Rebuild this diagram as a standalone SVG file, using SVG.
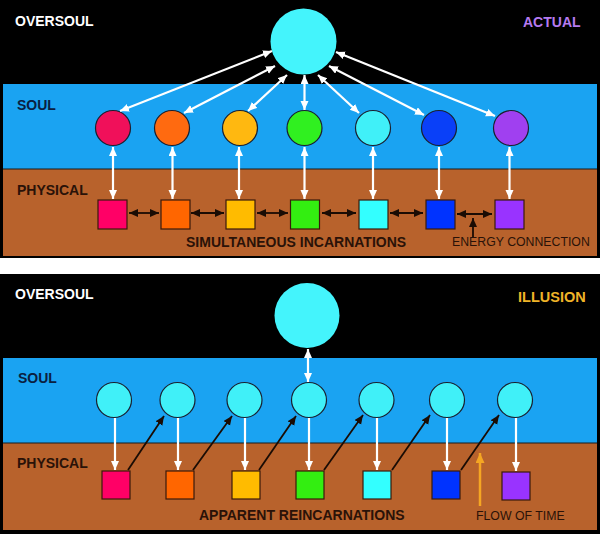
<svg xmlns="http://www.w3.org/2000/svg" width="600" height="534" viewBox="0 0 600 534">
<style>
.lbl{font-family:"Liberation Sans",Arial,sans-serif;font-weight:bold;font-size:14px}
.small{font-family:"Liberation Sans",Arial,sans-serif;font-size:12.3px;fill:#2a1208}
.w{stroke:#ffffff;stroke-width:2.2;fill:none}
.k{stroke:#1a0c04;stroke-width:1.8;fill:none}
.soulc{stroke:#1a2030;stroke-width:1.2}
.sq{stroke:#3a1a0a;stroke-width:1.2}
</style>
<defs>
<marker id="aw" markerUnits="userSpaceOnUse" markerWidth="10" markerHeight="9" refX="9" refY="4" orient="auto-start-reverse"><path d="M0,0 L9,4 L0,8 z" fill="#ffffff"/></marker>
<marker id="ak" markerUnits="userSpaceOnUse" markerWidth="10" markerHeight="9" refX="9" refY="4" orient="auto-start-reverse"><path d="M0,0 L9,4 L0,8 z" fill="#1a0c04"/></marker>
<marker id="ao" markerUnits="userSpaceOnUse" markerWidth="11" markerHeight="10" refX="10" refY="4.5" orient="auto"><path d="M0,0 L10,4.5 L0,9 z" fill="#f5a623"/></marker>
</defs>
<rect width="600" height="534" fill="#ffffff"/>
<!-- top panel -->
<g id="panel-actual">
<rect x="0" y="0" width="600" height="258" fill="#000000"/>
<rect x="3" y="84" width="594" height="85" fill="#1aa3f2"/>
<rect x="3" y="169" width="594" height="87" fill="#b8622c"/>
<line x1="3" y1="169" x2="597" y2="169" stroke="#1a1a1a" stroke-width="1"/>
<text class="lbl" x="15" y="26" fill="#ffffff">OVERSOUL</text>
<text class="lbl" x="523" y="27" fill="#b57af0">ACTUAL</text>
<text class="lbl" x="17" y="110" fill="#0a2040">SOUL</text>
<text class="lbl" x="17" y="195" fill="#2a1208">PHYSICAL</text>
<text class="lbl" x="186" y="247" fill="#2a1208">SIMULTANEOUS INCARNATIONS</text>
<text class="small" x="452" y="246">ENERGY CONNECTION</text>
</g>
<g id="oversoul-top"><circle cx="303.5" cy="41.5" r="33" fill="#44f4fc"/></g>
<g id="soul-top">
<circle class="soulc" cx="113" cy="128" r="17.5" fill="#f0105a"/>
<circle class="soulc" cx="172" cy="128" r="17.5" fill="#ff6a10"/>
<circle class="soulc" cx="240" cy="128" r="17.5" fill="#ffb810"/>
<circle class="soulc" cx="304.5" cy="128" r="17.5" fill="#30f020"/>
<circle class="soulc" cx="373" cy="128" r="17.5" fill="#40f0f8"/>
<circle class="soulc" cx="439" cy="128" r="17.5" fill="#0a40f8"/>
<circle class="soulc" cx="511" cy="128" r="17.5" fill="#a040f0"/>
</g>
<g id="physical-top">
<rect class="sq" x="98" y="200" width="29" height="29" fill="#ff0066"/>
<rect class="sq" x="161" y="200" width="29" height="29" fill="#ff6600"/>
<rect class="sq" x="226" y="200" width="29" height="29" fill="#ffbb00"/>
<rect class="sq" x="290.5" y="200" width="29" height="29" fill="#33ee11"/>
<rect class="sq" x="359" y="200" width="29" height="29" fill="#33ffff"/>
<rect class="sq" x="426" y="200" width="29" height="29" fill="#0033ff"/>
<rect class="sq" x="495" y="200" width="29" height="29" fill="#9933ff"/>
</g>
<g id="connectors-top">
<line class="w" x1="272" y1="51" x2="120" y2="111" marker-start="url(#aw)" marker-end="url(#aw)"/>
<line class="w" x1="275" y1="66" x2="184" y2="113" marker-start="url(#aw)" marker-end="url(#aw)"/>
<line class="w" x1="287" y1="75" x2="248" y2="111" marker-start="url(#aw)" marker-end="url(#aw)"/>
<line class="w" x1="304.5" y1="75" x2="304.5" y2="110" marker-start="url(#aw)" marker-end="url(#aw)"/>
<line class="w" x1="318" y1="75" x2="359" y2="113" marker-start="url(#aw)" marker-end="url(#aw)"/>
<line class="w" x1="329" y1="66" x2="424" y2="115" marker-start="url(#aw)" marker-end="url(#aw)"/>
<line class="w" x1="336" y1="52" x2="495" y2="116" marker-start="url(#aw)" marker-end="url(#aw)"/>
<line class="w" x1="113" y1="147" x2="113" y2="199" marker-start="url(#aw)" marker-end="url(#aw)"/>
<line class="w" x1="172.5" y1="147" x2="172.5" y2="199" marker-start="url(#aw)" marker-end="url(#aw)"/>
<line class="w" x1="239" y1="147" x2="239" y2="199" marker-start="url(#aw)" marker-end="url(#aw)"/>
<line class="w" x1="304.5" y1="147" x2="304.5" y2="199" marker-start="url(#aw)" marker-end="url(#aw)"/>
<line class="w" x1="373" y1="147" x2="373" y2="199" marker-start="url(#aw)" marker-end="url(#aw)"/>
<line class="w" x1="439" y1="147" x2="439" y2="199" marker-start="url(#aw)" marker-end="url(#aw)"/>
<line class="w" x1="509.5" y1="147" x2="509.5" y2="199" marker-start="url(#aw)" marker-end="url(#aw)"/>
<line class="k" x1="129" y1="213" x2="159" y2="213" marker-start="url(#ak)" marker-end="url(#ak)"/>
<line class="k" x1="191" y1="213" x2="224" y2="213" marker-start="url(#ak)" marker-end="url(#ak)"/>
<line class="k" x1="257" y1="213" x2="288" y2="213" marker-start="url(#ak)" marker-end="url(#ak)"/>
<line class="k" x1="322" y1="213" x2="356" y2="213" marker-start="url(#ak)" marker-end="url(#ak)"/>
<line class="k" x1="390" y1="213" x2="423" y2="213" marker-start="url(#ak)" marker-end="url(#ak)"/>
<line class="k" x1="457" y1="214" x2="492" y2="214" marker-start="url(#ak)" marker-end="url(#ak)"/>
<line class="k" x1="473" y1="237" x2="473" y2="218" marker-end="url(#ak)"/>
</g>
<!-- bottom panel -->
<g id="panel-illusion">
<rect x="0" y="274" width="600" height="260" fill="#000000"/>
<rect x="3" y="358" width="594" height="85" fill="#1aa3f2"/>
<rect x="3" y="443" width="594" height="87" fill="#b8622c"/>
<line x1="3" y1="443" x2="597" y2="443" stroke="#1a1a1a" stroke-width="1"/>
<text class="lbl" x="15" y="299" fill="#ffffff">OVERSOUL</text>
<text class="lbl" x="518" y="302" fill="#f0b428" style="font-size:14.5px">ILLUSION</text>
<text class="lbl" x="18" y="383" fill="#0a2040">SOUL</text>
<text class="lbl" x="17" y="468" fill="#2a1208">PHYSICAL</text>
<text class="lbl" x="199" y="520" fill="#2a1208">APPARENT REINCARNATIONS</text>
<text class="small" x="476" y="520">FLOW OF TIME</text>
</g>
<g id="oversoul-bottom"><circle cx="307" cy="315.5" r="32.5" fill="#44f4fc"/></g>
<g id="soul-bottom">
<circle class="soulc" cx="114" cy="400" r="17.5" fill="#40f0f8"/>
<circle class="soulc" cx="177.5" cy="400" r="17.5" fill="#40f0f8"/>
<circle class="soulc" cx="244.5" cy="400" r="17.5" fill="#40f0f8"/>
<circle class="soulc" cx="309" cy="400" r="17.5" fill="#40f0f8"/>
<circle class="soulc" cx="376.5" cy="400" r="17.5" fill="#40f0f8"/>
<circle class="soulc" cx="447" cy="400" r="17.5" fill="#40f0f8"/>
<circle class="soulc" cx="515" cy="400" r="17.5" fill="#40f0f8"/>
</g>
<g id="physical-bottom">
<rect class="sq" x="102" y="471" width="28" height="28" fill="#ff0066"/>
<rect class="sq" x="166" y="471" width="28" height="28" fill="#ff6600"/>
<rect class="sq" x="232" y="471" width="28" height="28" fill="#ffbb00"/>
<rect class="sq" x="296" y="471" width="28" height="28" fill="#33ee11"/>
<rect class="sq" x="363" y="471" width="28" height="28" fill="#33ffff"/>
<rect class="sq" x="432" y="471" width="28" height="28" fill="#0033ff"/>
<rect class="sq" x="502" y="472" width="28" height="28" fill="#9933ff"/>
</g>
<g id="connectors-bottom">
<line class="w" x1="308" y1="349" x2="308" y2="382" marker-start="url(#aw)" marker-end="url(#aw)"/>
<line class="w" x1="115" y1="418" x2="115" y2="470" marker-end="url(#aw)"/>
<line class="w" x1="178" y1="418" x2="178" y2="470" marker-end="url(#aw)"/>
<line class="w" x1="245" y1="418" x2="245" y2="470" marker-end="url(#aw)"/>
<line class="w" x1="309" y1="418" x2="309" y2="470" marker-end="url(#aw)"/>
<line class="w" x1="377" y1="418" x2="377" y2="470" marker-end="url(#aw)"/>
<line class="w" x1="447" y1="418" x2="447" y2="470" marker-end="url(#aw)"/>
<line class="w" x1="516" y1="418" x2="516" y2="471" marker-end="url(#aw)"/>
<line class="k" x1="128" y1="470" x2="164" y2="416" marker-end="url(#ak)"/>
<line class="k" x1="193" y1="470" x2="232" y2="416" marker-end="url(#ak)"/>
<line class="k" x1="259" y1="470" x2="296" y2="416" marker-end="url(#ak)"/>
<line class="k" x1="324" y1="470" x2="363" y2="415" marker-end="url(#ak)"/>
<line class="k" x1="392" y1="470" x2="430" y2="415" marker-end="url(#ak)"/>
<line class="k" x1="461" y1="470" x2="499" y2="415" marker-end="url(#ak)"/>
<line x1="480" y1="506" x2="480" y2="453" stroke="#f5a623" stroke-width="2.5" marker-end="url(#ao)"/>
</g>
</svg>
